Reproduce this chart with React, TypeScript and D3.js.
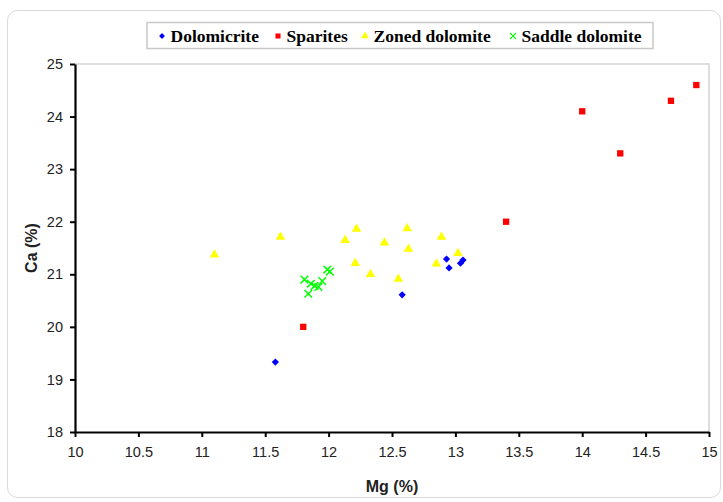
import * as d3 from "d3";
import React, { useRef, useEffect } from "react";

// values (Mg %, Ca %)
const dolomicriteMg = [11.58, 12.58, 12.93, 12.95, 13.04, 13.06];
const dolomicriteCa = [19.33, 20.61, 21.29, 21.12, 21.21, 21.27];

const sparitesMg = [11.8, 13.4, 14.0, 14.3, 14.7, 14.9];
const sparitesCa = [20.0, 22.0, 24.1, 23.3, 24.3, 24.6];

const zonedMg = [11.1, 11.62, 12.13, 12.22, 12.21, 12.33, 12.44, 12.55, 12.62, 12.63, 12.85, 12.89, 13.02];
const zonedCa = [21.37, 21.71, 21.65, 21.86, 21.21, 21.0, 21.6, 20.91, 21.87, 21.48, 21.2, 21.71, 21.4];

const saddleMg = [11.81, 11.84, 11.86, 11.89, 11.92, 11.95, 11.99, 12.01];
const saddleCa = [20.9, 20.63, 20.82, 20.78, 20.76, 20.87, 21.09, 21.05];

const xTicks = [10, 10.5, 11, 11.5, 12, 12.5, 13, 13.5, 14, 14.5, 15];
const yTicks = [18, 19, 20, 21, 22, 23, 24, 25];

const seriesNames = ["Dolomicrite", "Sparites", "Zoned dolomite", "Saddle dolomite"];

const App = () => {
  const ref = useRef(null);
  const width = 723;
  const height = 502;
  const m = { left: 75, right: 709, top: 64, bottom: 432 };

  useEffect(() => {
    const svg = d3.select(ref.current);
    svg.selectAll("*").remove();

    const x = d3.scaleLinear().domain([10, 15]).range([m.left, m.right]);
    const y = d3.scaleLinear().domain([18, 25]).range([m.bottom, m.top]);

    // outer frame
    svg.append("rect")
      .attr("x", 7.5).attr("y", 10.5)
      .attr("width", 713).attr("height", 487)
      .attr("rx", 10)
      .attr("fill", "#fff")
      .attr("stroke", "#d9d9d9");

    // plot area border (top + right)
    svg.append("path")
      .attr("d", `M${m.left},${m.top}H${m.right}V${m.bottom}`)
      .attr("fill", "none")
      .attr("stroke", "#d4d4d4")
      .attr("stroke-width", 1.5);

    const xAxis = svg.append("g")
      .attr("transform", `translate(0,${m.bottom})`)
      .call(d3.axisBottom(x).tickValues(xTicks).tickSize(5).tickSizeOuter(0).tickPadding(10)
        .tickFormat((d) => String(d)));
    const yAxis = svg.append("g")
      .attr("transform", `translate(${m.left},0)`)
      .call(d3.axisLeft(y).tickValues(yTicks).tickSize(5).tickSizeOuter(0).tickPadding(7)
        .tickFormat((d) => String(d)));

    [xAxis, yAxis].forEach((g) => {
      g.select(".domain").attr("stroke", "#000").attr("stroke-width", 2.2);
      g.selectAll(".tick line").attr("stroke", "#000").attr("stroke-width", 2);
      g.selectAll(".tick text")
        .attr("fill", "#222")
        .style("font-family", "Liberation Sans, Arial, sans-serif")
        .style("font-size", "14.5px");
    });

    svg.append("text")
      .attr("x", (m.left + m.right) / 2)
      .attr("y", 492)
      .attr("text-anchor", "middle")
      .style("font-family", "Liberation Sans, Arial, sans-serif")
      .style("font-weight", "bold")
      .style("font-size", "16px")
      .attr("fill", "#222")
      .text("Mg (%)");

    svg.append("text")
      .attr("transform", `translate(37,${(m.top + m.bottom) / 2}) rotate(-90)`)
      .attr("text-anchor", "middle")
      .style("font-family", "Liberation Sans, Arial, sans-serif")
      .style("font-weight", "bold")
      .style("font-size", "16px")
      .attr("fill", "#222")
      .text("Ca (%)");

    const diamond = d3.symbol().type(d3.symbolSquare).size(26)();
    const square = d3.symbol().type(d3.symbolSquare).size(40)();
    const triangle = d3.symbol().type(d3.symbolTriangle).size(40)();
    const cross = d3.symbol().type(d3.symbolX).size(40)();

    const series = [
      { mg: dolomicriteMg, ca: dolomicriteCa, path: diamond, color: "#0000ff", rot: 45, stroke: false },
      { mg: sparitesMg, ca: sparitesCa, path: square, color: "#ff0000", rot: 0, stroke: false },
      { mg: zonedMg, ca: zonedCa, path: triangle, color: "#ffff00", rot: 0, stroke: false },
      { mg: saddleMg, ca: saddleCa, path: cross, color: "#00ff00", rot: 0, stroke: true },
    ];

    series.forEach((s) => {
      svg.append("g")
        .selectAll("path")
        .data(s.mg.map((v, i) => [v, s.ca[i]]))
        .enter()
        .append("path")
        .attr("d", s.path)
        .attr("transform", (d) => `translate(${x(d[0])},${y(d[1])}) rotate(${s.rot})`)
        .attr("fill", s.stroke ? "none" : s.color)
        .attr("stroke", s.stroke ? s.color : "none")
        .attr("stroke-width", 1.5);
    });

    // legend
    const lg = svg.append("g");
    lg.append("rect")
      .attr("x", 147).attr("y", 22.5)
      .attr("width", 506).attr("height", 26)
      .attr("fill", "#fff")
      .attr("stroke", "#c8c8c8")
      .attr("stroke-width", 1.5);

    const itemX = [162, 278, 365, 513];
    series.forEach((s, i) => {
      lg.append("path")
        .attr("d", s.path)
        .attr("transform", `translate(${itemX[i]},36) rotate(${s.rot}) scale(0.8)`)
        .attr("fill", s.stroke ? "none" : s.color)
        .attr("stroke", s.stroke ? s.color : "none")
        .attr("stroke-width", 1.5);
      lg.append("text")
        .attr("x", itemX[i] + 8.5)
        .attr("y", 42)
        .style("font-family", "Liberation Serif, Times New Roman, serif")
        .style("font-weight", "bold")
        .style("font-size", "17.5px")
        .attr("fill", "#000")
        .text(seriesNames[i]);
    });
  }, []);

  return (
    <svg
      ref={ref}
      width={width}
      height={height}
      style={{ position: "absolute", left: 0, top: 0, background: "#fff" }}
    />
  );
};

export default App;
